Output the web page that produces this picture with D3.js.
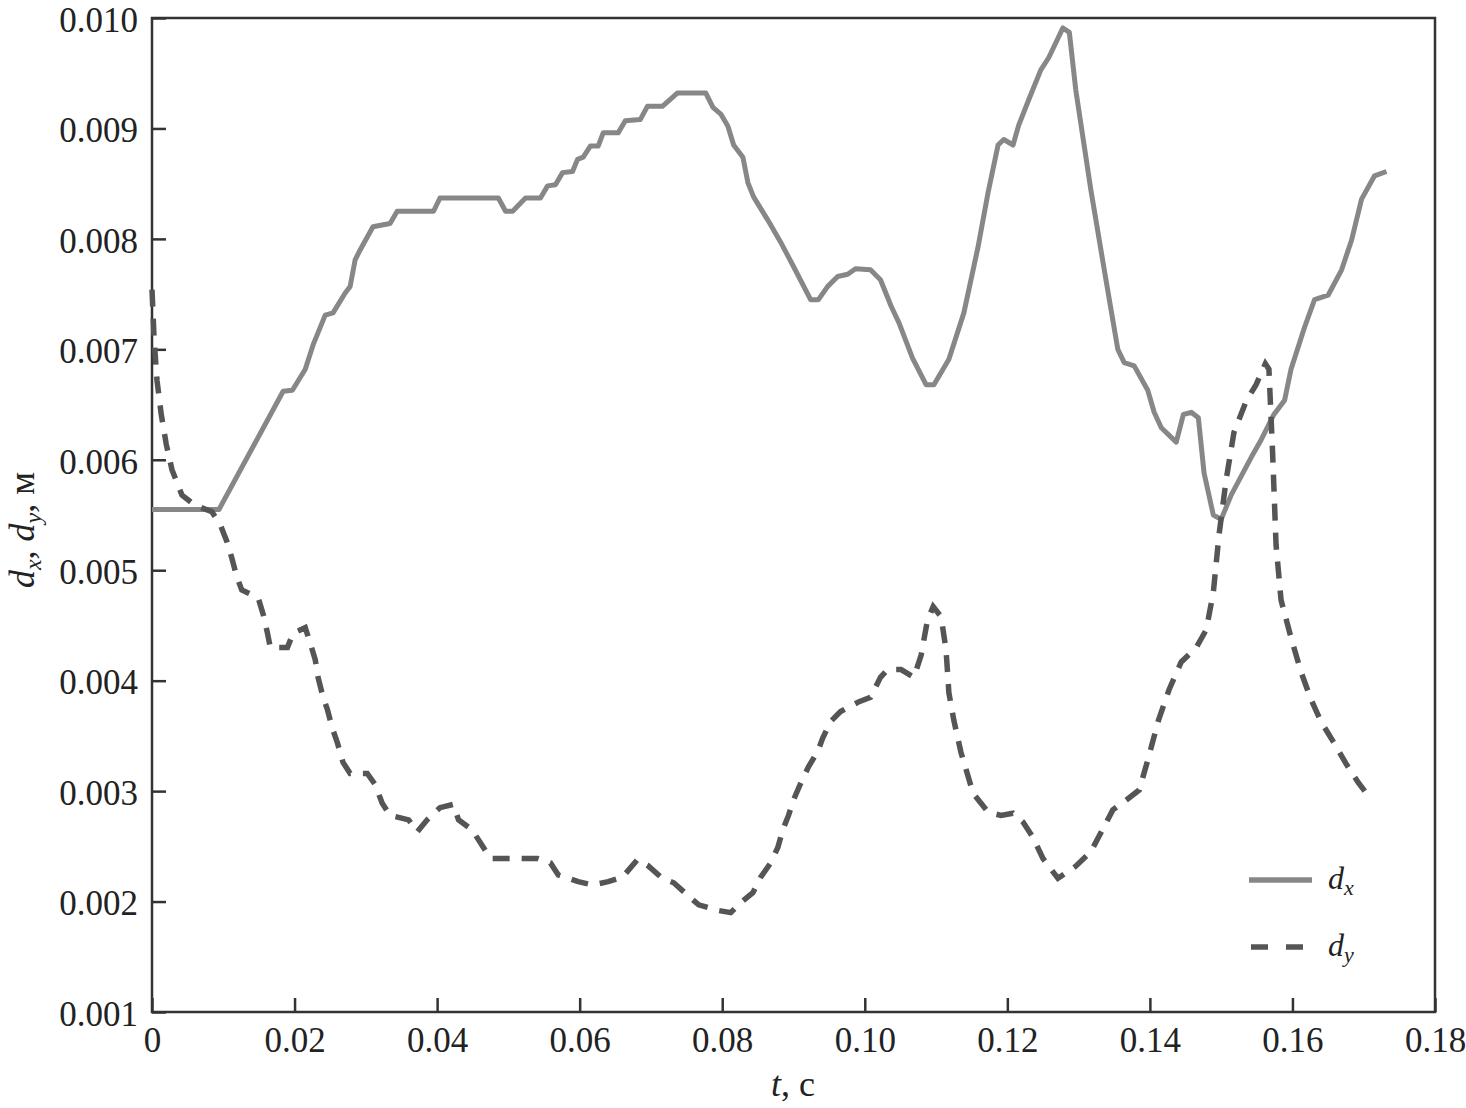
<!DOCTYPE html>
<html>
<head>
<meta charset="utf-8">
<script src="https://cdn.jsdelivr.net/npm/d3@7"></script>
<style>
  body { margin: 0; background: #fff; }
  text { font-family: "Liberation Serif", "DejaVu Serif", serif; fill: #222; }
</style>
</head>
<body>
<div id="chart-container"></div>
<script>
const width = 1466;
const height = 1108;
const margin = { top: 18, right: 31, bottom: 96, left: 152 };

// d_x (solid) : time, value
const dxT = [0, 0.0094, 0.0184, 0.0197, 0.0215, 0.0226, 0.0243, 0.0254, 0.0271, 0.0278, 0.0285, 0.0292,
  0.0310, 0.0334, 0.0344, 0.0395, 0.0404, 0.0486, 0.0496, 0.0506, 0.0524, 0.0545, 0.0555, 0.0566,
  0.0576, 0.0590, 0.0597, 0.0605, 0.0615, 0.0626, 0.0633, 0.0654, 0.0664, 0.0685, 0.0695, 0.0716,
  0.0737, 0.0777, 0.0787, 0.0798, 0.0808, 0.0816, 0.0829, 0.0836, 0.0844, 0.0864, 0.0882, 0.0900,
  0.0924, 0.0935, 0.0948, 0.0962, 0.0976, 0.0987, 0.1008, 0.1022, 0.1037, 0.1048, 0.1067, 0.1086,
  0.1097, 0.1118, 0.1139, 0.1159, 0.1173, 0.1187, 0.1195, 0.1208, 0.1216, 0.1230, 0.1247, 0.1258,
  0.1278, 0.1287, 0.1296, 0.1317, 0.1336, 0.1355, 0.1364, 0.1378, 0.1397, 0.1406, 0.1416, 0.1437,
  0.1447, 0.1458, 0.1468, 0.1476, 0.1489, 0.1500, 0.1514, 0.1542, 0.1556, 0.1574, 0.1589, 0.1598,
  0.1617, 0.1631, 0.1650, 0.1669, 0.1683, 0.1697, 0.1715, 0.1732];
const dxV = [0.00555, 0.00555, 0.00662, 0.00663, 0.00682, 0.00704, 0.00731, 0.00733, 0.00751, 0.00757, 0.00781, 0.0079,
  0.00811, 0.00814, 0.00825, 0.00825, 0.00837, 0.00837, 0.00825, 0.00825, 0.00837, 0.00837, 0.00848, 0.00849,
  0.0086, 0.00861, 0.00872, 0.00874, 0.00884, 0.00884, 0.00896, 0.00896, 0.00907, 0.00908, 0.0092, 0.0092,
  0.00932, 0.00932, 0.00919, 0.00913, 0.00902, 0.00885, 0.00874, 0.00851, 0.00838, 0.00817, 0.00797, 0.00775,
  0.00745, 0.00745, 0.00757, 0.00766, 0.00768, 0.00773, 0.00772, 0.00763, 0.00739, 0.00724, 0.00692, 0.00668,
  0.00668, 0.00691, 0.00733, 0.00793, 0.00842, 0.00885, 0.0089, 0.00885, 0.00903, 0.00926, 0.00953, 0.00964,
  0.00991, 0.00987, 0.00935, 0.00845, 0.00772, 0.0070, 0.00688, 0.00685, 0.00663, 0.00643, 0.00629, 0.00616,
  0.00641, 0.00643, 0.00638, 0.00588, 0.0055, 0.00546, 0.00568, 0.00602, 0.00618, 0.00641, 0.00654, 0.00682,
  0.0072, 0.00745, 0.00749, 0.00772, 0.00799, 0.00836, 0.00857, 0.00861];

// d_y (dashed) : time, value
const dyT = [0, 0.0003, 0.0007, 0.0013, 0.0020, 0.0028, 0.0042, 0.0060, 0.0084, 0.0096, 0.0105, 0.0112,
  0.0119, 0.0126, 0.0149, 0.0156, 0.0162, 0.0166, 0.0190, 0.0198, 0.0215, 0.0222, 0.0229, 0.0233,
  0.0240, 0.0246, 0.0253, 0.0260, 0.0268, 0.0278, 0.0302, 0.0313, 0.0323, 0.0334, 0.0360, 0.0372,
  0.0386, 0.0404, 0.0423, 0.0430, 0.0449, 0.0461, 0.0475, 0.0541, 0.0559, 0.0570, 0.0598, 0.0618,
  0.0640, 0.0660, 0.0681, 0.0695, 0.0716, 0.0732, 0.0751, 0.0767, 0.0794, 0.0812, 0.0826, 0.0843,
  0.0854, 0.0868, 0.0878, 0.0885, 0.0893, 0.0900, 0.0910, 0.0921, 0.0934, 0.0941, 0.0952, 0.0966,
  0.0992, 0.1008, 0.1022, 0.1032, 0.1051, 0.1069, 0.1079, 0.1088, 0.1096, 0.1107, 0.1114, 0.1118,
  0.1125, 0.1135, 0.1152, 0.1173, 0.1191, 0.1208, 0.1222, 0.1236, 0.1250, 0.1271, 0.1296, 0.1317,
  0.1331, 0.1348, 0.1367, 0.1385, 0.1397, 0.1412, 0.1427, 0.1444, 0.1465, 0.1479, 0.1489, 0.1497,
  0.1507, 0.1518, 0.1535, 0.1549, 0.1562, 0.1567, 0.1572, 0.1577, 0.1584, 0.1598, 0.1612, 0.1626,
  0.1640, 0.1657, 0.1676, 0.1692, 0.1711];
const dyV = [0.00754, 0.00709, 0.00672, 0.00641, 0.00614, 0.00591, 0.00568, 0.00559, 0.00553, 0.00541, 0.00526, 0.00511,
  0.00494, 0.00482, 0.00475, 0.0046, 0.00443, 0.0043, 0.0043, 0.00443, 0.00448, 0.00434, 0.00419, 0.00403,
  0.00385, 0.00374, 0.00357, 0.00344, 0.00326, 0.00316, 0.00316, 0.00306, 0.00289, 0.00278, 0.00274, 0.00263,
  0.00274, 0.00285, 0.00288, 0.00274, 0.00265, 0.00253, 0.00239, 0.00239, 0.00235, 0.00224, 0.00218, 0.00215,
  0.00218, 0.00222, 0.00238, 0.00233, 0.00221, 0.00217, 0.00206, 0.00197, 0.00192, 0.0019, 0.00199, 0.00208,
  0.00222, 0.00235, 0.00249, 0.00265, 0.00278, 0.00292, 0.00307, 0.00322, 0.00336, 0.00348, 0.00363, 0.00372,
  0.00381, 0.00385, 0.00403, 0.0041, 0.0041, 0.00403, 0.00423, 0.00455, 0.00467, 0.00458, 0.00428, 0.00389,
  0.00364, 0.00335, 0.00298, 0.00281, 0.00278, 0.0028, 0.00272, 0.00258, 0.00239, 0.00221, 0.00232, 0.00245,
  0.00262, 0.00283, 0.00292, 0.00301, 0.00328, 0.00364, 0.00392, 0.00417, 0.0043, 0.00446, 0.0048, 0.00532,
  0.00582, 0.00625, 0.00653, 0.00668, 0.00687, 0.00682, 0.00609, 0.00523, 0.00473, 0.00439, 0.00408, 0.00383,
  0.00363, 0.00345, 0.00324, 0.00308, 0.00292];

const xTicks = [0, 0.02, 0.04, 0.06, 0.08, 0.10, 0.12, 0.14, 0.16, 0.18];
const yTicks = [0.001, 0.002, 0.003, 0.004, 0.005, 0.006, 0.007, 0.008, 0.009, 0.010];

const x = d3.scaleLinear([0, 0.18], [margin.left, width - margin.right]);
const y = d3.scaleLinear([0.001, 0.010], [height - margin.bottom, margin.top]);

const svg = d3.select("#chart-container")
    .append("svg")
    .attr("viewBox", [0, 0, width, height])
    .attr("width", width)
    .attr("height", height);

// frame
svg.append("rect")
    .attr("x", margin.left)
    .attr("y", margin.top)
    .attr("width", width - margin.left - margin.right)
    .attr("height", height - margin.top - margin.bottom)
    .attr("fill", "none")
    .attr("stroke", "#333")
    .attr("stroke-width", 2.5);

const xAxis = svg.append("g")
    .attr("transform", `translate(0,${height - margin.bottom})`)
    .call(d3.axisBottom(x).tickValues(xTicks)
        .tickFormat(d => d === 0 ? "0" : d.toFixed(2))
        .tickSizeInner(-14).tickSizeOuter(0).tickPadding(15));

const yAxis = svg.append("g")
    .attr("transform", `translate(${margin.left},0)`)
    .call(d3.axisLeft(y).tickValues(yTicks)
        .tickFormat(d => d.toFixed(3))
        .tickSizeInner(-14).tickSizeOuter(0).tickPadding(14));

[xAxis, yAxis].forEach(g => {
  g.select(".domain").remove();
  g.selectAll(".tick line").attr("stroke", "#333").attr("stroke-width", 2.5);
  g.selectAll(".tick text")
      .attr("font-family", "Liberation Serif, serif")
      .attr("font-size", 35)
      .attr("fill", "#222");
});
yAxis.selectAll(".tick text").attr("dy", "0.38em");

const dxData = dxT.map((t, i) => [t, dxV[i]]);
const dyData = dyT.map((t, i) => [t, dyV[i]]);

const line = d3.line()
    .x(d => x(d[0]))
    .y(d => y(d[1]));

svg.append("path")
    .datum(dxData)
    .attr("d", line)
    .attr("fill", "none")
    .attr("stroke", "#878787")
    .attr("stroke-width", 5)
    .attr("stroke-linejoin", "round");

svg.append("path")
    .datum(dyData)
    .attr("d", line)
    .attr("fill", "none")
    .attr("stroke", "#555")
    .attr("stroke-width", 5.5)
    .attr("stroke-dasharray", "17,12");

// x axis title
const xt = svg.append("text")
    .attr("x", 793)
    .attr("y", 1096)
    .attr("text-anchor", "middle")
    .attr("font-size", 36);
xt.append("tspan").attr("font-style", "italic").text("t");
xt.append("tspan").text(", с");

// y axis title
const yt = svg.append("text")
    .attr("transform", "translate(34,530) rotate(-90)")
    .attr("text-anchor", "middle")
    .attr("font-size", 36);
yt.append("tspan").attr("font-style", "italic").text("d");
yt.append("tspan").attr("font-style", "italic").attr("font-size", 24).attr("dy", 7).text("x");
yt.append("tspan").attr("dy", -7).text(", ");
yt.append("tspan").attr("font-style", "italic").text("d");
yt.append("tspan").attr("font-style", "italic").attr("font-size", 24).attr("dy", 7).text("y");
yt.append("tspan").attr("dy", -7).text(", м");

// legend
const legend = [
  { key: "x", y: 880, color: "#878787", dash: null, x1: 1249, x2: 1312 },
  { key: "y", y: 947, color: "#555", dash: "17,18", x1: 1251, x2: 1304 }
];
legend.forEach(l => {
  svg.append("line")
      .attr("x1", l.x1).attr("x2", l.x2)
      .attr("y1", l.y).attr("y2", l.y)
      .attr("stroke", l.color)
      .attr("stroke-width", 5.5)
      .attr("stroke-dasharray", l.dash);
  const t = svg.append("text")
      .attr("x", 1328)
      .attr("y", l.y + 9)
      .attr("font-size", 32)
      .attr("font-style", "italic");
  t.append("tspan").text("d");
  t.append("tspan").attr("font-size", 22).attr("dy", 6).text(l.key);
});
</script>
</body>
</html>
